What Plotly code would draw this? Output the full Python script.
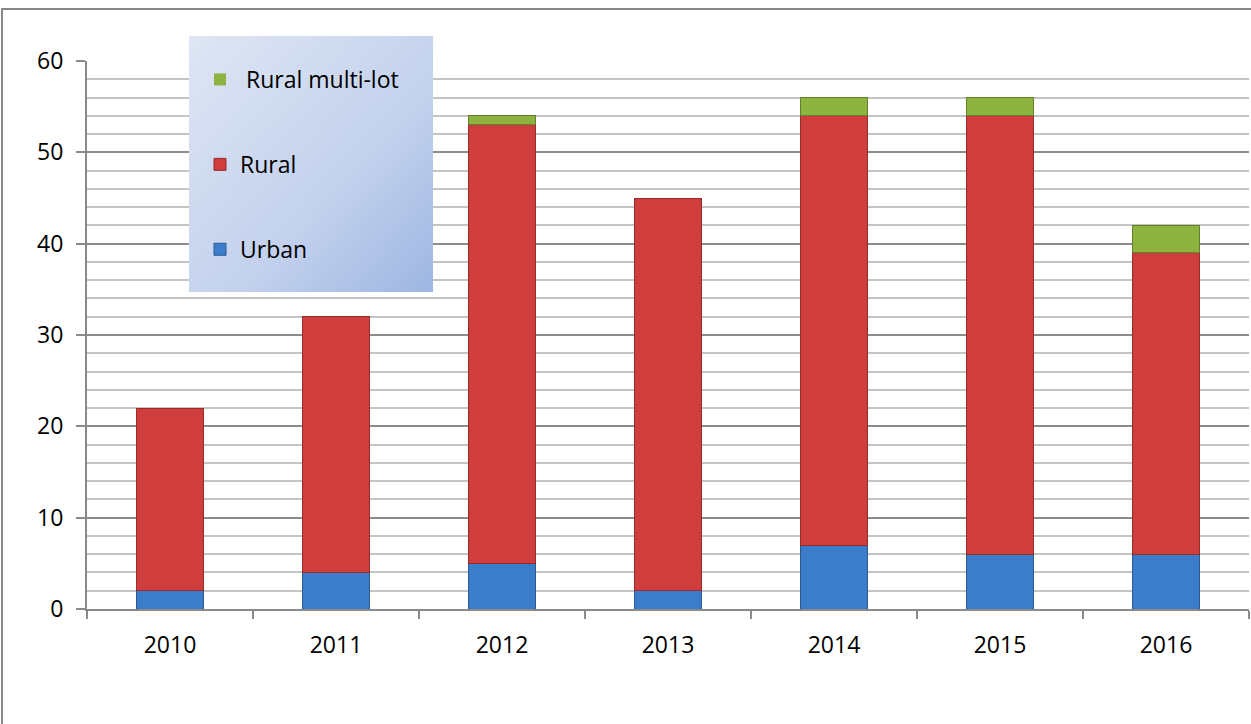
import plotly.graph_objects as go
import base64

years = ["2010", "2011", "2012", "2013", "2014", "2015", "2016"]
urban = [2, 4, 5, 2, 7, 6, 6]
rural = [20, 28, 48, 43, 47, 48, 33]
rural_multi = [0, 0, 1, 0, 2, 2, 3]

W, H = 1251, 724
L, R, T, B = 87, 2, 61, 115
pw = W - L - R
ph = H - T - B

def px_x(x):
    return (x - L) / pw

def px_y(y):
    return (H - B - y) / ph

def edge(vals):
    return [1 if v > 0 else 0 for v in vals]

fig = go.Figure()
fig.add_trace(go.Bar(name="Urban", x=years, y=urban, legendgroup="u", legendrank=3,
                     marker=dict(color="#3b7dcb", line=dict(color="#2a5a92", width=edge(urban)))))
fig.add_trace(go.Bar(name="Rural", x=years, y=rural, legendgroup="r", legendrank=2,
                     marker=dict(color="#cf3d3c", line=dict(color="#9a2a2a", width=edge(rural)))))
fig.add_trace(go.Bar(name=" Rural multi-lot", x=years, y=rural_multi, legendgroup="m", legendrank=1,
                     marker=dict(color="#8db43e", line=dict(color="#63802a", width=edge(rural_multi)))))

svg = ('<svg xmlns="http://www.w3.org/2000/svg" width="244" height="256">'
       '<defs><linearGradient id="g" x1="0" y1="0" x2="1" y2="1">'
       '<stop offset="0" stop-color="#dfe6f4"/><stop offset="0.6" stop-color="#c3d1ed"/>'
       '<stop offset="1" stop-color="#9db6e2"/></linearGradient></defs>'
       '<rect width="244" height="256" fill="url(#g)"/></svg>')
uri = "data:image/svg+xml;base64," + base64.b64encode(svg.encode()).decode()

fig.update_layout(
    width=W, height=H,
    margin=dict(l=L, r=R, t=T, b=B),
    barmode="stack",
    bargap=0.6,
    plot_bgcolor="white",
    paper_bgcolor="white",
    font=dict(family="'Open Sans', sans-serif", size=23, color="black"),
    showlegend=True,
    legend=dict(x=px_x(200), y=px_y(58), xanchor="left", yanchor="top",
                bgcolor="rgba(0,0,0,0)", traceorder="grouped",
                tracegroupgap=52, font=dict(size=23), itemwidth=30),
    images=[dict(source=uri, xref="paper", yref="paper",
                 x=px_x(189), y=px_y(36), sizex=px_x(433) - px_x(189),
                 sizey=px_y(36) - px_y(292), xanchor="left", yanchor="top",
                 sizing="stretch", layer="above")],
    shapes=[dict(type="rect", xref="paper", yref="paper",
                 x0=px_x(2), x1=px_x(1260), y0=px_y(740), y1=px_y(9),
                 line=dict(color="#878787", width=2), fillcolor="rgba(0,0,0,0)")],
)

fig.update_xaxes(
    type="category", showline=True, linecolor="#8a8a8a", linewidth=2,
    ticks="outside", tickson="boundaries", ticklen=8, tickcolor="#8a8a8a",
    tickwidth=2, showgrid=False, ticklabelstandoff=14,
)
fig.update_yaxes(
    range=[0, 60], dtick=10, showline=True, linecolor="#8a8a8a", linewidth=2,
    ticks="outside", ticklen=9, tickcolor="#8a8a8a", tickwidth=2,
    showgrid=True, gridcolor="#8c8c8c", gridwidth=2, zeroline=False,
    ticklabelstandoff=8,
    minor=dict(dtick=2, showgrid=True, gridcolor="#c4c4c4", gridwidth=2, ticks=""),
)

fig.write_html("out.html")
